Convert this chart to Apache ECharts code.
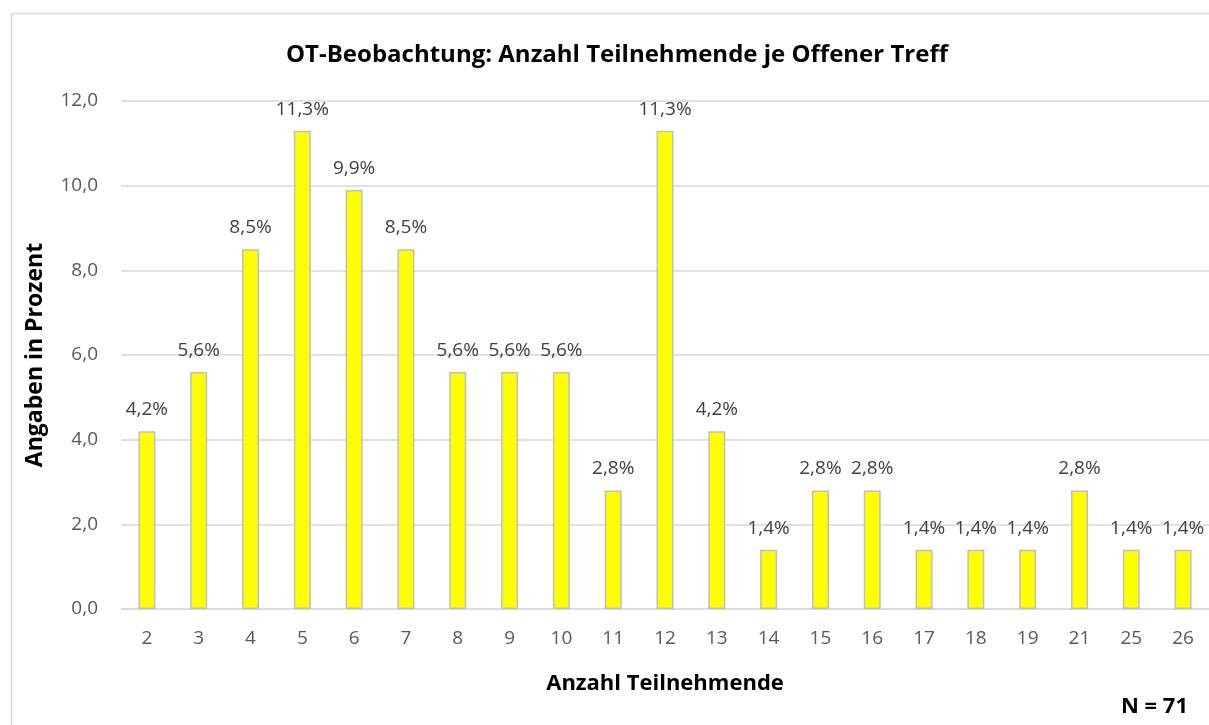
<!DOCTYPE html>
<html>
<head>
<meta charset="utf-8">
<script src="https://cdn.jsdelivr.net/npm/echarts@6/dist/echarts.min.js"></script>
<style>
  html, body { margin: 0; padding: 0; background: #fff; }
  #chart { width: 1209px; height: 725px; }
</style>
</head>
<body>
<div id="chart"></div>
<script>
// Anzahl Teilnehmende pro Offenem Treff
const categories = ['2', '3', '4', '5', '6', '7', '8', '9', '10', '11', '12', '13', '14', '15', '16', '17', '18', '19', '21', '25', '26'];
// Anteil in Prozent (N = 71)
const percentValues = [4.2, 5.6, 8.5, 11.3, 9.9, 8.5, 5.6, 5.6, 5.6, 2.8, 11.3, 4.2, 1.4, 2.8, 2.8, 1.4, 1.4, 1.4, 2.8, 1.4, 1.4];
const yTicks = { min: 0, max: 12, interval: 2 };

const titleText = 'OT-Beobachtung: Anzahl Teilnehmende je Offener Treff';
const xAxisTitle = 'Anzahl Teilnehmende';
const yAxisTitle = 'Angaben in Prozent';
const sampleNote = 'N = 71';

const FONT = '"Open Sans", "Liberation Sans", sans-serif';
const fmt = v => v.toFixed(1).replace('.', ',');

const chart = echarts.init(document.getElementById('chart'), null, { renderer: 'canvas' });
chart.setOption({
  animation: false,
  backgroundColor: '#ffffff',
  title: {
    text: titleText,
    left: 612,
    textAlign: 'center',
    top: 38,
    textStyle: { fontFamily: FONT, fontSize: 24, fontWeight: 'bold', color: '#000000' }
  },
  graphic: [
    {
      type: 'rect',
      shape: { x: 11.5, y: 13.5, width: 1220, height: 730 },
      style: { fill: null, stroke: '#d9d9d9', lineWidth: 1.5 },
      silent: true
    },
    {
      type: 'text',
      right: 21,
      top: 696,
      style: { text: sampleNote, font: 'bold 22px ' + FONT, fill: '#000000' }
    }
  ],
  grid: { left: 121, right: 0, top: 101, bottom: 116, containLabel: false },
  xAxis: {
    type: 'category',
    data: categories,
    name: xAxisTitle,
    nameLocation: 'middle',
    nameGap: 64,
    nameTextStyle: { fontFamily: FONT, fontSize: 22, fontWeight: 'bold', color: '#000000' },
    axisLine: { lineStyle: { color: '#d9d9d9', width: 1.5 } },
    axisTick: { show: false },
    axisLabel: { fontFamily: FONT, fontSize: 19, color: '#595959', margin: 20 }
  },
  yAxis: {
    type: 'value',
    min: yTicks.min,
    max: yTicks.max,
    interval: yTicks.interval,
    name: yAxisTitle,
    nameLocation: 'middle',
    nameGap: 74,
    nameRotate: 90,
    nameTextStyle: { fontFamily: FONT, fontSize: 23, fontWeight: 'bold', color: '#000000' },
    axisLine: { show: false },
    axisTick: { show: false },
    splitLine: { lineStyle: { color: '#d9d9d9', width: 1.5 } },
    axisLabel: { fontFamily: FONT, fontSize: 19, color: '#595959', margin: 23, formatter: v => fmt(v) }
  },
  series: [{
    type: 'bar',
    data: percentValues,
    barWidth: 17,
    itemStyle: { color: '#ffff00', borderColor: '#bfbfbf', borderWidth: 1.5 },
    label: {
      show: true,
      position: 'top',
      distance: 12,
      fontFamily: FONT,
      fontSize: 19,
      color: '#404040',
      formatter: p => fmt(p.value) + '%'
    }
  }]
});
</script>
</body>
</html>
